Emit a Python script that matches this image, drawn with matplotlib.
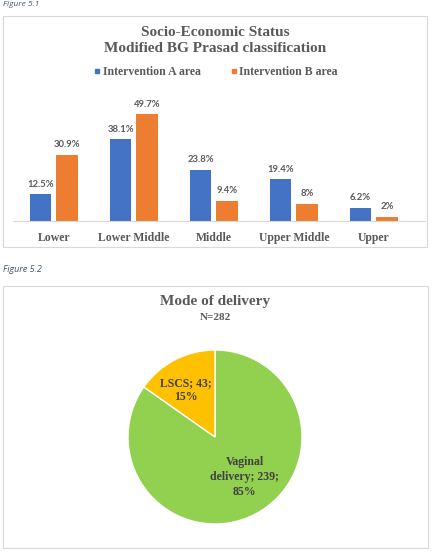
import numpy as np
import matplotlib
matplotlib.use("Agg")
import matplotlib.pyplot as plt
from matplotlib.patches import Rectangle
from matplotlib.lines import Line2D

# data, figure 5.1
classes = ["Lower", "Lower Middle", "Middle", "Upper Middle", "Upper"]
area_a = [12.5, 38.1, 23.8, 19.4, 6.2]
area_b = [30.9, 49.7, 9.4, 8.0, 2.0]
labels_a = ["12.5%", "38.1%", "23.8%", "19.4%", "6.2%"]
labels_b = ["30.9%", "49.7%", "9.4%", "8%", "2%"]
series_names = ["Intervention A area", "Intervention B area"]

# data, figure 5.2
delivery = ["Vaginal delivery", "LSCS"]
delivery_n = [239, 43]
delivery_pct = [85, 15]

W, H = 432, 555
BLUE = "#4472C4"
ORANGE = "#ED7D31"
GREEN = "#92D050"
YELLOW = "#FFC000"
GREY = "#595959"
SERIF = "Liberation Serif"

fig = plt.figure(figsize=(W / 100, H / 100), dpi=100)


def fx(x):
    return x / W


def fy(y):
    return 1 - y / H


def box(x0, y0, x1, y1):
    fig.add_artist(Rectangle((fx(x0), fy(y1)), fx(x1 - x0), (y1 - y0) / H,
                             transform=fig.transFigure, fill=False,
                             edgecolor="#D9D9D9", linewidth=0.8))


# captions
fig.text(fx(3), fy(0.5), "Figure 5.1", fontsize=6, style="italic",
         color="#44546A", family="Open Sans", va="top")
fig.text(fx(3), fy(270), "Figure 5.2", fontsize=6.5, style="italic",
         color="#44546A", family="Open Sans", va="center")

# ---- bar chart
box(3, 16, 427, 247)
fig.text(fx(215), fy(40), "Socio-Economic Status\nModified BG Prasad classification",
         ha="center", va="center", fontsize=11, fontweight="bold",
         color=GREY, family=SERIF, linespacing=1.3)

ax = fig.add_axes([fx(13), fy(221), fx(412), 118 / H])
x = np.arange(len(classes))
w = 0.27
off = 0.165
ba = ax.bar(x - off, area_a, w, color=BLUE)
bb = ax.bar(x + off, area_b, w, color=ORANGE)
for bars, labs in [(ba, labels_a), (bb, labels_b)]:
    for r, lab in zip(bars, labs):
        ax.annotate(lab, (r.get_x() + r.get_width() / 2, r.get_height()),
                    xytext=(0, 4), textcoords="offset points", ha="center",
                    va="bottom", fontsize=6.8, fontweight="bold", color=GREY,
                    family="Lato")
ax.set_xlim(-0.51, 4.64)
ax.set_ylim(0, 55)
ax.set_yticks([])
ax.set_xticks(x)
ax.set_xticklabels(classes, fontsize=8.5, fontweight="bold", color=GREY,
                   family=SERIF)
ax.tick_params(axis="x", length=0, pad=8)
for s in ["top", "right", "left"]:
    ax.spines[s].set_visible(False)
ax.spines["bottom"].set_color("#D9D9D9")

handles = [Line2D([], [], marker="s", linestyle="", markersize=3, color=BLUE),
           Line2D([], [], marker="s", linestyle="", markersize=3, color=ORANGE)]
fig.legend(handles, series_names, loc="center", bbox_to_anchor=(fx(215), fy(72)),
           ncol=2, frameon=False, handletextpad=0.1, columnspacing=2.4,
           handlelength=0.8, prop={"family": SERIF, "weight": "bold", "size": 8.5},
           labelcolor=GREY)

# ---- pie chart
box(3, 286, 428, 548)
fig.text(fx(215), fy(301), "Mode of delivery", ha="center", va="center",
         fontsize=11, fontweight="bold", color=GREY, family=SERIF)
fig.text(fx(215), fy(317), "N=282", ha="center", va="center",
         fontsize=8, fontweight="bold", color=GREY, family=SERIF)

r_px = 87
pax = fig.add_axes([fx(215 - r_px), fy(437 + r_px), fx(2 * r_px), 2 * r_px / H])
pax.pie(delivery_n, colors=[GREEN, YELLOW], startangle=90, counterclock=False,
        wedgeprops={"edgecolor": "white", "linewidth": 1})
pax.set_xlim(-1, 1)
pax.set_ylim(-1, 1)
pax.set_aspect("equal")

label_pos = [(0.34, -0.46), (-0.34, 0.54)]
label_txt = ["Vaginal\ndelivery; %d;\n%d%%" % (delivery_n[0], delivery_pct[0]),
             "LSCS; %d;\n%d%%" % (delivery_n[1], delivery_pct[1])]
for (px, py), t in zip(label_pos, label_txt):
    pax.text(px, py, t, ha="center", va="center", fontsize=8.5, fontweight="bold",
             color="#404040", family=SERIF, linespacing=1.3)

fig.savefig("out.png", dpi=100)
